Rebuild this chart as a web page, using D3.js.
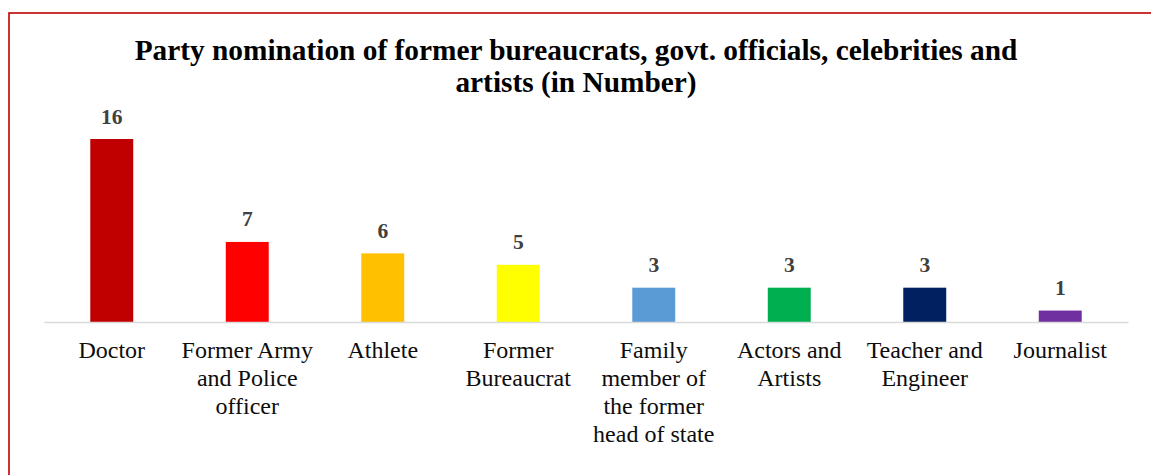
<!DOCTYPE html>
<html>
<head>
<meta charset="utf-8">
<script src="https://cdn.jsdelivr.net/npm/d3@7"></script>
<style>
  html, body { margin: 0; padding: 0; background: #fff; }
  svg { display: block; }
  svg text { font-family: 'Liberation Serif', 'Times New Roman', serif; }
</style>
</head>
<body>
<svg id="chart" width="1151" height="475"></svg>
<script>
const categories = ["Doctor", "Former Army and Police officer", "Athlete", "Former Bureaucrat",
  "Family member of the former head of state", "Actors and Artists", "Teacher and Engineer", "Journalist"];
const categoryLines = [
  ["Doctor"],
  ["Former Army", "and Police", "officer"],
  ["Athlete"],
  ["Former", "Bureaucrat"],
  ["Family", "member of", "the former", "head of state"],
  ["Actors and", "Artists"],
  ["Teacher and", "Engineer"],
  ["Journalist"]
];
const values = [16, 7, 6, 5, 3, 3, 3, 1];
const colors = ["#c00000", "#ff0000", "#ffc000", "#ffff00", "#5b9bd5", "#00b050", "#002060", "#7030a0"];
const titleLines = ["Party nomination of former bureaucrats, govt. officials, celebrities and", "artists (in Number)"];

const FONT = "'Liberation Serif', 'Times New Roman', serif";
const svg = d3.select("#chart");
const W = 1151, H = 475;
const left = 44, right = 1128, baseY = 322;

svg.append("rect").attr("x", 0).attr("y", 0).attr("width", W).attr("height", H).attr("fill", "#fff");
// border
svg.append("rect").attr("x", 9).attr("y", 13).attr("width", W + 20).attr("height", H + 20)
  .attr("fill", "none").attr("stroke", "#c00000").attr("stroke-width", 1.6);

// title
const title = svg.append("text").attr("text-anchor", "middle")
  .style("font-family", FONT)
  .style("font-weight", "bold").style("font-size", "29.33px").attr("fill", "#000");
titleLines.forEach((t, i) => {
  title.append("tspan").attr("x", 576).attr("y", 59.5 + i * 32.5).text(t);
});

const x = d3.scaleBand().domain(categories).range([left, right]).paddingInner(0.683).paddingOuter(0.3415);
const y = d3.scaleLinear().domain([0, 16]).range([baseY, baseY - 183]);

// bars
svg.append("g").selectAll("rect").data(values).join("rect")
  .attr("x", (d, i) => x(categories[i]))
  .attr("y", d => y(d))
  .attr("width", x.bandwidth())
  .attr("height", d => y(0) - y(d))
  .attr("fill", (d, i) => colors[i]);

// axis
const axis = svg.append("g").attr("transform", `translate(0,${baseY})`)
  .call(d3.axisBottom(x).tickSize(0).tickFormat(""));
axis.select(".domain").attr("stroke", "#d9d9d9").attr("stroke-width", 1.5);

// value labels
svg.append("g").selectAll("text").data(values).join("text")
  .attr("x", (d, i) => x(categories[i]) + x.bandwidth() / 2)
  .attr("y", d => y(d) - 15.5)
  .attr("text-anchor", "middle")
  .style("font-family", FONT)
  .style("font-weight", "bold").style("font-size", "21.5px").attr("fill", "#404040")
  .text(d => d);

// category labels
const lab = svg.append("g").selectAll("text").data(categories).join("text")
  .attr("text-anchor", "middle")
  .style("font-family", FONT)
  .style("font-size", "24px").attr("fill", "#0d0d0d");
lab.each(function(c, i) {
  const cx = x(c) + x.bandwidth() / 2;
  categoryLines[i].forEach((ln, j) => {
    d3.select(this).append("tspan").attr("x", cx).attr("y", 358 + j * 28).text(ln);
  });
});
</script>
</body>
</html>
